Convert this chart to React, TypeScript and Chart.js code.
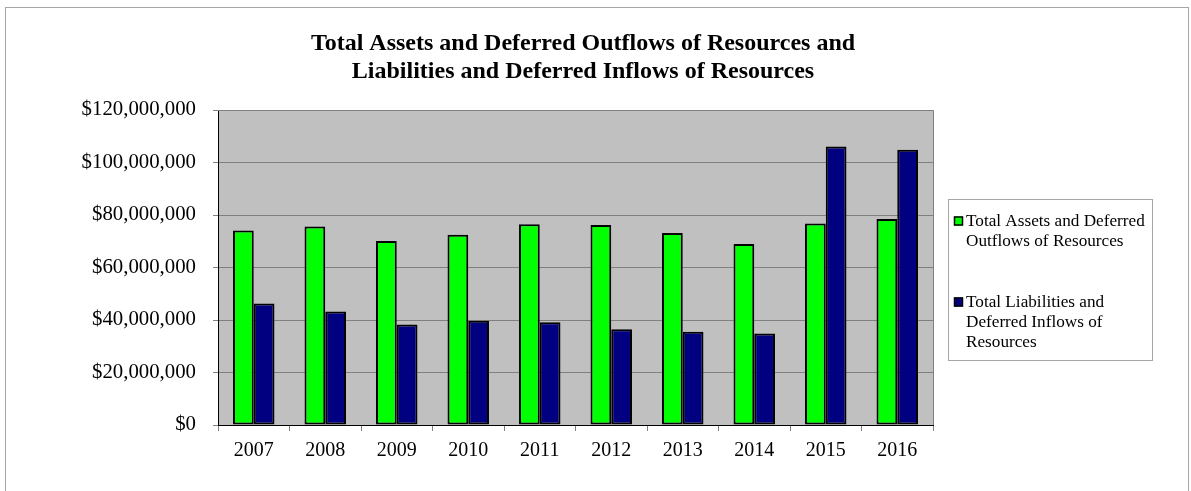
import React, { useEffect, useRef } from "react";
import { Chart, registerables } from "chart.js";

Chart.register(...registerables);

const TITLE_LINES = [
  "Total Assets and Deferred Outflows of Resources and",
  "Liabilities and Deferred Inflows of Resources",
];

const CATEGORIES = ["2007", "2008", "2009", "2010", "2011", "2012", "2013", "2014", "2015", "2016"];

const ASSETS = [74100000, 75600000, 70100000, 72500000, 76500000, 76200000, 73100000, 69000000, 76800000, 78500000];
const LIABILITIES = [46300000, 43200000, 38300000, 39700000, 39100000, 36500000, 35500000, 34900000, 106100000, 104900000];

const SERIES_NAMES = [
  ["Total Assets and Deferred", "Outflows of Resources"],
  ["Total Liabilities and", "Deferred Inflows of", "Resources"],
];
const SERIES_COLORS = ["#00ff00", "#000080"];

const Y_MIN = 0;
const Y_MAX = 120000000;
const Y_STEP = 20000000;

const FONT = "'Liberation Serif', 'Times New Roman', serif";

const framePlugin = {
  id: "frame",
  beforeDraw(chart: any) {
    const { ctx, chartArea } = chart;
    ctx.save();
    ctx.fillStyle = "#ffffff";
    ctx.fillRect(0, 0, chart.width, chart.height);
    ctx.strokeStyle = "#a6a6a6";
    ctx.lineWidth = 1;
    ctx.strokeRect(5.5, 7.5, 1183, 520);
    ctx.fillStyle = "#c0c0c0";
    ctx.fillRect(chartArea.left, chartArea.top, chartArea.right - chartArea.left, chartArea.bottom - chartArea.top);
    ctx.restore();
  },
  afterDatasetsDraw(chart: any) {
    const { ctx, chartArea } = chart;
    ctx.save();
    ctx.strokeStyle = "#808080";
    ctx.lineWidth = 1;
    ctx.beginPath();
    ctx.moveTo(chartArea.left, chartArea.top + 0.5);
    ctx.lineTo(chartArea.right + 0.5, chartArea.top + 0.5);
    ctx.lineTo(chartArea.right + 0.5, chartArea.bottom);
    ctx.stroke();
    ctx.restore();
  },
  afterDraw(chart: any) {
    const { ctx } = chart;
    ctx.save();
    // title
    ctx.fillStyle = "#000";
    ctx.textAlign = "center";
    ctx.textBaseline = "middle";
    ctx.font = `bold 24px ${FONT}`;
    TITLE_LINES.forEach((line, i) => ctx.fillText(line, 583, 44 + i * 28));

    // legend
    ctx.strokeStyle = "#a6a6a6";
    ctx.lineWidth = 1;
    ctx.strokeRect(948.5, 199.5, 204, 161);
    ctx.font = `17.2px ${FONT}`;
    ctx.textAlign = "left";
    let y = 221;
    chart.data.datasets.forEach((ds: any) => {
      const lines: string[] = ds.legendLines;
      ctx.fillStyle = ds.backgroundColor;
      ctx.fillRect(954, y - 4.5, 9, 9);
      ctx.strokeStyle = "#000";
      ctx.lineWidth = 1.5;
      ctx.strokeRect(954.5, y - 4, 8, 8);
      ctx.fillStyle = "#000";
      lines.forEach((ln, i) => ctx.fillText(ln, 966, y + i * 20));
      y += lines.length * 20 + 41;
    });
    ctx.restore();
  },
};

export default function App() {
  const ref = useRef<HTMLCanvasElement | null>(null);

  useEffect(() => {
    if (!ref.current) return;
    const chart = new Chart(ref.current, {
      type: "bar",
      data: {
        labels: CATEGORIES,
        datasets: [ASSETS, LIABILITIES].map((values, i) => ({
          label: SERIES_NAMES[i].join(" "),
          legendLines: SERIES_NAMES[i],
          data: values,
          backgroundColor: SERIES_COLORS[i],
          borderColor: "#000000",
          borderWidth: 2,
          borderSkipped: false,
          barPercentage: 1.0,
          categoryPercentage: 0.58,
        })) as any,
      },
      options: {
        responsive: false,
        animation: false,
        devicePixelRatio: 1,
        layout: { padding: { top: 110, right: 258, bottom: 0, left: 0 } },
        plugins: {
          legend: { display: false },
          title: { display: false },
          tooltip: { enabled: false },
        },
        scales: {
          x: {
            offset: true,
            grid: {
              display: true,
              offset: true,
              drawOnChartArea: false,
              drawTicks: true,
              tickLength: 6,
              color: "#808080",
            },
            border: { display: true, color: "#000000", width: 1 },
            ticks: { color: "#000", font: { family: FONT, size: 20 }, padding: 8 },
            afterFit: (s: any) => {
              s.height = 66;
            },
          },
          y: {
            min: Y_MIN,
            max: Y_MAX,
            ticks: {
              stepSize: Y_STEP,
              color: "#000",
              font: { family: FONT, size: 20.8 },
              padding: 17,
              callback: (v: any) => "$" + Number(v).toLocaleString("en-US"),
            },
            grid: { color: "#808080", tickLength: 5, drawTicks: true },
            border: { display: true, color: "#000000", width: 1 },
            afterFit: (s: any) => {
              s.width = 218;
            },
          },
        },
      },
      plugins: [framePlugin],
    });
    return () => chart.destroy();
  }, []);

  return (
    <div style={{ position: "fixed", left: 0, top: 0, width: 1191, height: 491, background: "#fff" }}>
      <canvas ref={ref} width={1191} height={491} style={{ width: 1191, height: 491, display: "block" }} />
    </div>
  );
}
